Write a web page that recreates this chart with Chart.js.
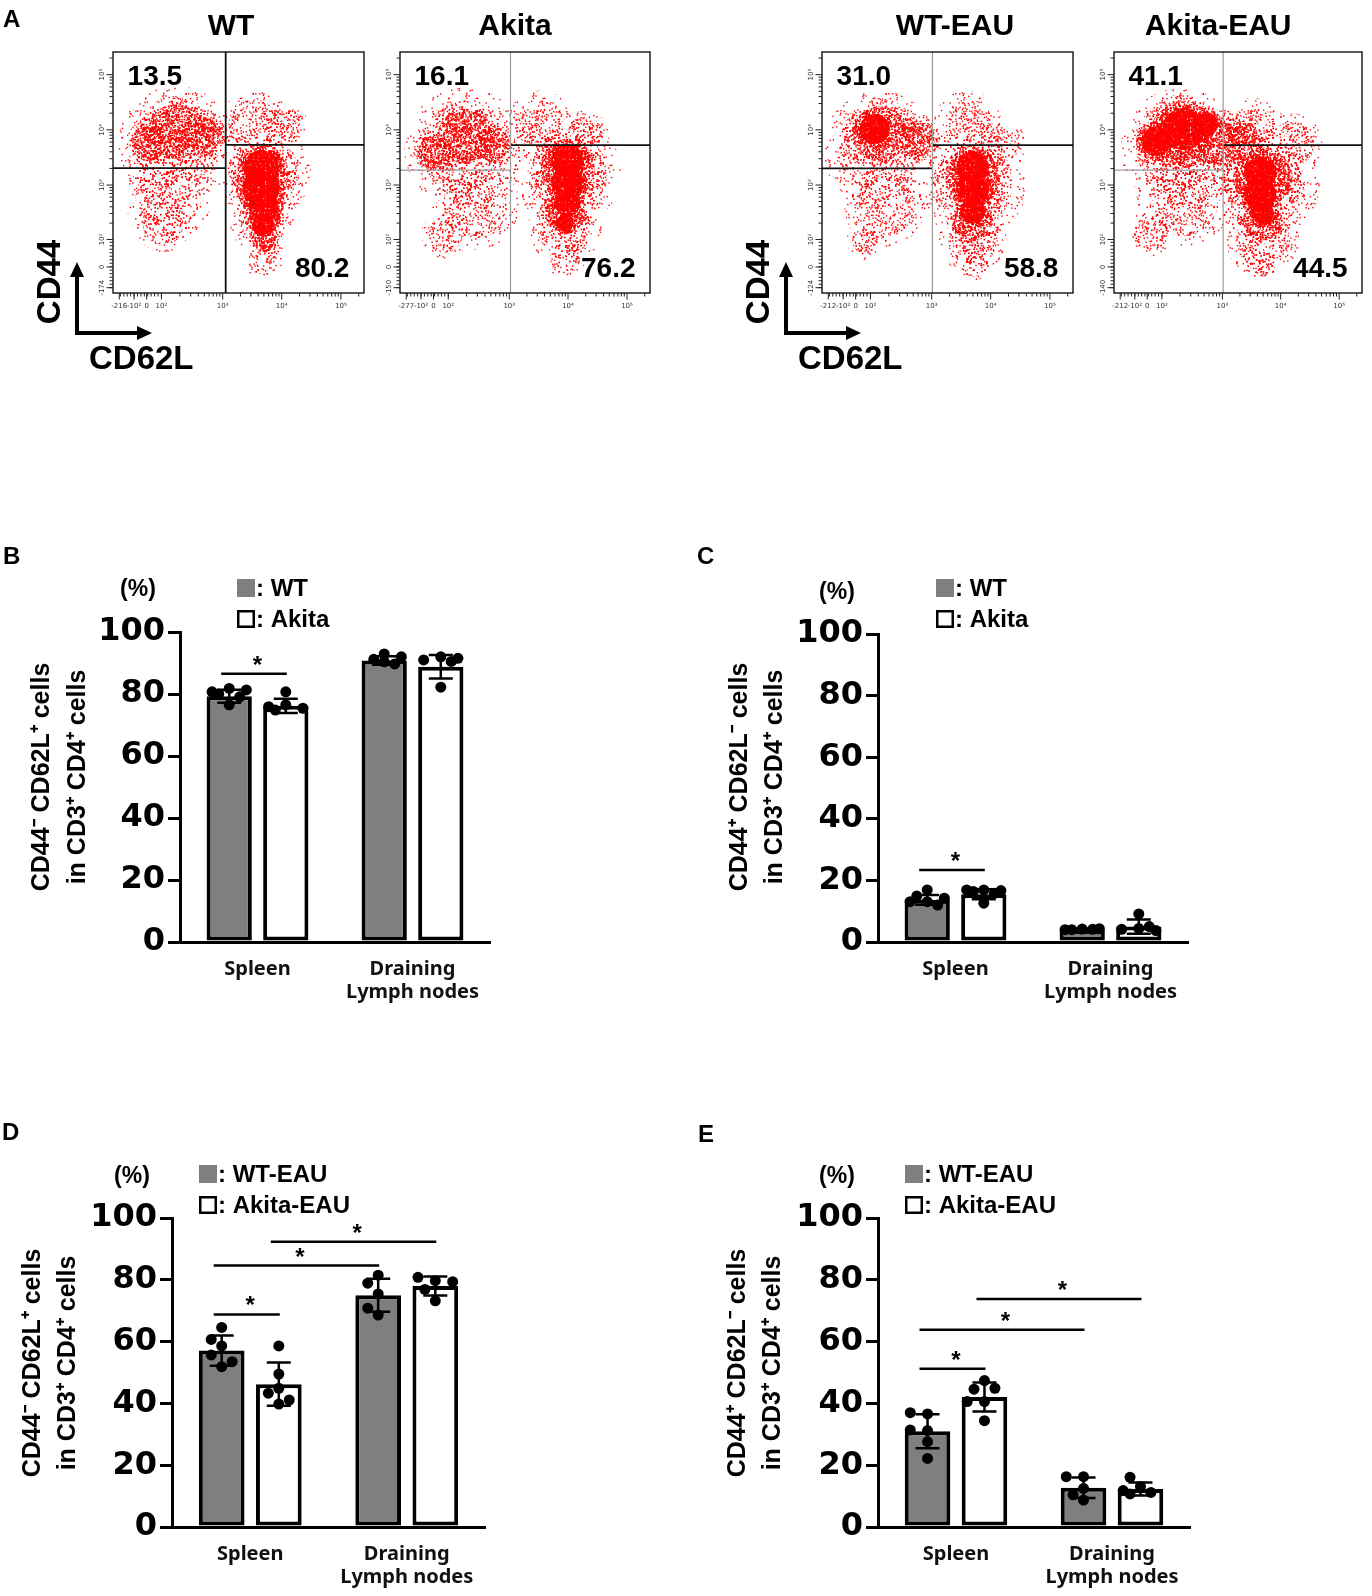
<!DOCTYPE html>
<html><head><meta charset="utf-8">
<script src="https://cdn.jsdelivr.net/npm/chart.js@4.4.1/dist/chart.umd.min.js"></script>
<style>
html,body{margin:0;padding:0;background:#fff;}
#page{position:relative;width:1372px;height:1596px;overflow:hidden;background:#fff;}
canvas{position:absolute;}
</style></head><body><div id="page"></div>
<script>
// ================= DATA =================
// Panel A : flow cytometry dot plots (CD62L x CD44)
const flowTitles = ['WT', 'Akita', 'WT-EAU', 'Akita-EAU'];
const flowQuadUL = ['13.5', '16.1', '31.0', '41.1'];
const flowQuadLR = ['80.2', '76.2', '58.8', '44.5'];
const flowXTickLabels = [
  ['-216', '-10²', '0', '10²', '10³', '10⁴', '10⁵'],
  ['-277', '-10²', '0', '10²', '10³', '10⁴', '10⁵'],
  ['-212', '-10²', '0', '10²', '10³', '10⁴', '10⁵'],
  ['-212', '-10²', '0', '10²', '10³', '10⁴', '10⁵']
];
const flowXTickPos = [2.5, 8.4, 13.4, 19.3, 43.7, 67.2, 90.8];
const flowYTickLabels = [
  ['-174', '0', '10²', '10³', '10⁴', '10⁵'],
  ['-150', '0', '10²', '10³', '10⁴', '10⁵'],
  ['-124', '0', '10²', '10³', '10⁴', '10⁵'],
  ['-140', '0', '10²', '10³', '10⁴', '10⁵']
];
const flowYTickPos = [2.2, 10.8, 22.2, 44.8, 67.7, 90.6];
const flowGateX = [44.9, 44.2, 44.0, 44.0];
const flowGateYLeft = [51.8, 51.0, 51.7, 51.0];
const flowGateYRight = [61.5, 61.4, 61.4, 61.4];
// event clouds: [CD62L, CD44, spread, density level 1..3]
const wtCells = [
  [25, 62, 17, 1], [22, 40, 13, 1], [20, 28, 8, 1],
  [25, 67, 11, 2], [14, 62, 7, 2], [35, 65, 8, 2],
  [56, 70, 10, 1], [68, 70, 7, 1],
  [60, 50, 14, 1], [60, 30, 10, 1], [60, 14, 6, 1],
  [60, 50, 10, 2], [60, 33, 7, 2], [60, 22, 4.5, 2],
  [59, 52, 7, 3], [59, 44, 7.5, 3], [60, 36, 6, 3], [60, 28, 4.5, 3]
];
const akitaCells = [
  [26, 60, 18, 1], [30, 36, 13, 1], [18, 24, 7, 1],
  [26, 65, 11, 2], [14, 58, 7, 2], [37, 62, 7, 2],
  [56, 70, 10, 1], [74, 66, 7, 1],
  [67, 50, 16, 1], [66, 27, 11, 1], [66, 14, 6, 1],
  [67, 52, 11, 2], [66, 33, 8, 2],
  [67, 55, 6.5, 3], [67, 46, 6.5, 3], [67, 37, 5, 3], [66, 29, 3.5, 3]
];
const wtEauCells = [
  [23, 60, 17, 1], [25, 36, 12, 1], [18, 22, 6, 1],
  [23, 66, 11, 2], [38, 64, 7, 2],
  [21, 68, 6, 3],
  [58, 70, 10, 1], [72, 62, 7, 1],
  [60, 45, 16, 1], [60, 22, 10, 1], [60, 12, 5, 1],
  [60, 48, 11, 2], [60, 30, 8, 2],
  [60, 52, 6.5, 3], [60, 43, 6.5, 3], [60, 34, 5, 3]
];
const akitaEauCells = [
  [27, 60, 18, 1], [28, 38, 14, 1], [15, 25, 7, 1],
  [27, 65, 13, 2], [43, 62, 9, 2],
  [28, 68, 8.5, 3], [17, 63, 6, 3], [37, 70, 5, 3],
  [56, 67, 10, 1], [72, 62, 9, 1], [52, 65, 6, 2],
  [60, 45, 17, 1], [60, 22, 11, 1], [60, 12, 5, 1],
  [60, 48, 12, 2], [60, 30, 8, 2],
  [59, 50, 6.5, 3], [59, 41, 6.5, 3], [60, 33, 4.5, 3]
];
const flowCells = [wtCells, akitaCells, wtEauCells, akitaEauCells];

// Panels B-E : bar charts (mean, SD, individual mice)
const barCategories = ['Spleen', ['Draining', 'Lymph nodes']];
const namesBC = ['WT', 'Akita'];
const namesDE = ['WT-EAU', 'Akita-EAU'];
const yTitleNaive = ['CD44⁻ CD62L⁺ cells', 'in CD3⁺ CD4⁺ cells'];
const yTitleMemory = ['CD44⁺ CD62L⁻ cells', 'in CD3⁺ CD4⁺ cells'];

const bWTMean = [79.3, 90.8], bWTSd = [2.1, 1.4];
const bAkMean = [76.2, 88.8], bAkSd = [2.3, 3.8];
const bWTPts = [[81.8, 76.5, 80.0, 81.3, 79.1, 80.7], [92.9, 91.2, 89.7, 90.4, 92.0]];
const bAkPts = [[80.7, 76.5, 75.9, 75.4, 74.8], [92.0, 91.0, 91.5, 90.5, 82.2]];
const bSig = [[0, 0, 1, 0, 86.5]];

const cWTMean = [13.7, 3.9], cWTSd = [1.6, 0.4];
const cAkMean = [15.5, 5.0], cAkSd = [1.6, 2.3];
const cWTPts = [[13.1, 14.9, 16.9, 14.2, 13.1, 12.0], [4.2, 4.0, 4.3, 4.1, 4.0]];
const cAkPts = [[16.9, 16.9, 12.6, 16.7, 16.4, 15.8], [4.4, 4.1, 9.1, 3.7, 5.0]];
const cSig = [[0, 0, 1, 0, 23.4]];

const dWTMean = [57.1, 75.0], dWTSd = [4.9, 5.3];
const dAkMean = [46.2, 78.0], dAkSd = [7.0, 3.1];
const dWTPts = [[58.6, 55.7, 51.9, 64.6, 60.7, 53.5], [81.5, 68.6, 75.4, 78.9, 70.8]];
const dAkPts = [[39.8, 58.6, 49.5, 43.3, 41.1, 44.9], [79.7, 80.8, 76.9, 73.2, 79.4]];
const dSig = [[0, 0, 1, 0, 68.8], [0, 0, 0, 1, 84.6], [1, 0, 1, 1, 92.3]];

const eWTMean = [31.0, 12.7], eWTSd = [5.5, 3.3];
const eAkMean = [42.1, 12.3], eAkSd = [4.7, 2.1];
const eWTPts = [[36.6, 31.2, 37.0, 31.4, 27.6, 22.2], [16.3, 12.5, 8.7, 16.3, 10.4]];
const eAkPts = [[47.4, 40.6, 44.6, 34.4, 40.6, 44.9], [13.1, 16.1, 10.7, 11.2, 11.8]];
const eSig = [[0, 0, 1, 0, 51.2], [0, 0, 0, 1, 63.8], [1, 0, 1, 1, 73.8]];

// ================= STYLE / LAYOUT =================
const ARIAL = '"Liberation Sans", Arial, Helvetica, sans-serif';
const DEJAVU = '"DejaVu Sans", sans-serif';
const NOTO = '"Noto Sans", "DejaVu Sans", sans-serif';
const GRAY = '#7f7f7f';
const page = document.getElementById('page');

function mkCanvas(left, top, w, h) {
  const c = document.createElement('canvas');
  c.width = w; c.height = h;
  c.style.left = left + 'px'; c.style.top = top + 'px';
  c.style.width = w + 'px'; c.style.height = h + 'px';
  page.appendChild(c);
  return c;
}

// speckle texture (style only) so clouds look like individual events
function frac(v) { return v - Math.floor(v); }
function speckle(size, count, dot, seed) {
  const c = document.createElement('canvas');
  c.width = size; c.height = size;
  const g = c.getContext('2d');
  g.fillStyle = '#ff0000';
  for (let k = 0; k < count; k++) {
    const hx = frac(Math.sin((k + seed) * 12.9898) * 43758.5453);
    const hy = frac(Math.sin((k + seed) * 78.233) * 24634.6345);
    g.fillRect(hx * size, hy * size, dot, dot);
  }
  return g.createPattern(c, 'repeat');
}
const patterns = [
  speckle(67, 150, 1.4, 3),
  speckle(61, 330, 1.4, 101),
  speckle(59, 1000, 1.4, 777),
  speckle(53, 3800, 1.4, 4242)
];
// each density level is drawn as its core plus a softer fringe one level lighter
const levelDraw = [
  {lvl: 1, pat: 0, f: 1.35, order: 8},
  {lvl: 1, pat: 1, f: 1.0, order: 7},
  {lvl: 2, pat: 1, f: 1.3, order: 6},
  {lvl: 2, pat: 2, f: 1.0, order: 5},
  {lvl: 3, pat: 2, f: 1.35, order: 4},
  {lvl: 3, pat: 3, f: 1.0, order: 3}
];

const flowLayout = [
  {canvas: [0, 0, 394, 380], box: [113, 52, 364, 293], titleX: 47, vGray: false, lGray: false, arrows: true},
  {canvas: [370, 0, 310, 320], box: [400, 52, 650, 293], titleX: 46, vGray: true, lGray: true, arrows: false},
  {canvas: [700, 0, 405, 380], box: [822, 52, 1073, 293], titleX: 53, vGray: true, lGray: false, arrows: true},
  {canvas: [1084, 0, 288, 320], box: [1114, 52, 1362, 293], titleX: 42, vGray: true, lGray: true, arrows: false}
];

function minorTicksX() {
  const t = [];
  for (let v = -200; v <= 100; v += 25) t.push(8.4 + (v + 100) / 200 * (19.3 - 8.4));
  const decades = [[19.3, 43.7], [43.7, 67.2], [67.2, 90.8]];
  decades.forEach(([a, b]) => { for (let k = 2; k <= 9; k++) t.push(a + Math.log10(k) * (b - a)); });
  t.push(90.8 + Math.log10(2) * 23.6);
  return t.filter(v => v > 0.5 && v < 99.5);
}
function minorTicksY() {
  const t = [];
  for (let v = 2.2; v <= 22.2; v += 1.45) t.push(v);
  const decades = [[22.2, 44.8], [44.8, 67.7], [67.7, 90.6]];
  decades.forEach(([a, b]) => { for (let k = 2; k <= 9; k++) t.push(a + Math.log10(k) * (b - a)); });
  t.push(90.6 + Math.log10(2) * 22.9);
  return t.filter(v => v > 0.5 && v < 99.5);
}

function flowPlugin(i, L) {
  return {
    id: 'flowDecor' + i,
    afterDraw(chart) {
      const {ctx, chartArea: a, scales: {x, y}} = chart;
      ctx.save();
      ctx.strokeStyle = '#000';
      ctx.lineWidth = 1.3;
      ctx.strokeRect(a.left, a.top, a.right - a.left, a.bottom - a.top);
      ctx.lineWidth = 1;
      ctx.strokeStyle = '#222';
      ctx.beginPath();
      minorTicksX().forEach(v => { const px = x.getPixelForValue(v); ctx.moveTo(px, a.bottom); ctx.lineTo(px, a.bottom + 3.5); });
      flowXTickPos.forEach(v => { const px = x.getPixelForValue(v); ctx.moveTo(px, a.bottom); ctx.lineTo(px, a.bottom + 6.5); });
      minorTicksY().forEach(v => { const py = y.getPixelForValue(v); ctx.moveTo(a.left, py); ctx.lineTo(a.left - 3.5, py); });
      flowYTickPos.forEach(v => { const py = y.getPixelForValue(v); ctx.moveTo(a.left, py); ctx.lineTo(a.left - 6.5, py); });
      ctx.stroke();
      ctx.fillStyle = '#333';
      ctx.font = '7px ' + DEJAVU;
      ctx.textAlign = 'center';
      ctx.textBaseline = 'middle';
      flowXTickLabels[i].forEach((lab, k) => ctx.fillText(lab, x.getPixelForValue(flowXTickPos[k]), a.bottom + 13));
      flowYTickLabels[i].forEach((lab, k) => {
        ctx.save();
        ctx.translate(a.left - 11, y.getPixelForValue(flowYTickPos[k]));
        ctx.rotate(-Math.PI / 2);
        ctx.fillText(lab, 0, 0);
        ctx.restore();
      });
      ctx.fillStyle = '#000';
      ctx.font = 'bold 28px ' + ARIAL;
      ctx.textBaseline = 'middle';
      ctx.textAlign = 'left';
      ctx.fillText(flowQuadUL[i], x.getPixelForValue(5.8), y.getPixelForValue(89.5));
      ctx.textAlign = 'right';
      ctx.fillText(flowQuadLR[i], x.getPixelForValue(94.2), y.getPixelForValue(10));
      ctx.font = 'bold 30px ' + ARIAL;
      ctx.textAlign = 'center';
      ctx.fillText(flowTitles[i], x.getPixelForValue(L.titleX), a.top - 25);
      if (i === 0) {
        ctx.font = 'bold 24px ' + ARIAL;
        ctx.textAlign = 'left';
        ctx.fillText('A', 3, 20);
      }
      if (L.arrows) {
        const ax = a.left - 36, ay = 333, topY = 262, rx = ax + 75;
        ctx.strokeStyle = '#000';
        ctx.lineWidth = 4;
        ctx.beginPath();
        ctx.moveTo(ax, ay + 2); ctx.lineTo(ax, topY + 12);
        ctx.moveTo(ax - 2, ay); ctx.lineTo(rx - 12, ay);
        ctx.stroke();
        ctx.beginPath();
        ctx.moveTo(ax, topY); ctx.lineTo(ax - 7, topY + 15); ctx.lineTo(ax + 7, topY + 15); ctx.closePath();
        ctx.moveTo(rx, ay); ctx.lineTo(rx - 15, ay - 7); ctx.lineTo(rx - 15, ay + 7); ctx.closePath();
        ctx.fill();
        ctx.font = 'bold 33px ' + ARIAL;
        ctx.textBaseline = 'middle';
        ctx.save();
        ctx.translate(ax - 26, 282);
        ctx.rotate(-Math.PI / 2);
        ctx.textAlign = 'center';
        ctx.fillText('CD44', 0, 0);
        ctx.restore();
        ctx.textAlign = 'left';
        ctx.fillText('CD62L', ax + 12, 360);
      }
      ctx.restore();
    }
  };
}

function radiusFn(f) {
  return ctx => {
    const d = ctx.raw;
    if (!d) return 0;
    const xs = ctx.chart.scales.x;
    return f * Math.abs(xs.getPixelForValue(d.x + d.s) - xs.getPixelForValue(d.x));
  };
}

flowLayout.forEach((L, i) => {
  const [cl, ct, cw, ch] = L.canvas;
  const [bl, bt, br, bb] = L.box;
  const c = mkCanvas(cl, ct, cw, ch);
  const datasets = [];
  levelDraw.forEach(D => {
    const pts = flowCells[i].filter(p => p[3] === D.lvl).map(p => ({x: p[0], y: p[1], s: p[2]}));
    datasets.push({
      type: 'scatter', data: pts, backgroundColor: patterns[D.pat], borderWidth: 0,
      pointRadius: radiusFn(D.f), pointHoverRadius: radiusFn(D.f), order: D.order, clip: 0
    });
  });
  const gx = flowGateX[i], gyl = flowGateYLeft[i], gyr = flowGateYRight[i];
  const lineDs = (pts, gray) => ({
    type: 'line', data: pts, borderColor: gray ? '#9a9a9a' : '#111', borderWidth: gray ? 1.2 : 1.8,
    pointRadius: 0, showLine: true, fill: false, order: 0, clip: 0
  });
  datasets.push(lineDs([{x: gx, y: 0}, {x: gx, y: 100}], L.vGray));
  datasets.push(lineDs([{x: 0, y: gyl}, {x: gx, y: gyl}], L.lGray));
  datasets.push(lineDs([{x: gx, y: gyr}, {x: 100, y: gyr}], false));
  new Chart(c, {
    type: 'scatter',
    data: {datasets},
    options: {
      responsive: false, animation: false, events: [],
      layout: {padding: {left: bl - cl, top: bt - ct, right: cl + cw - br, bottom: ct + ch - bb}},
      plugins: {legend: {display: false}, tooltip: {enabled: false}},
      scales: {
        x: {type: 'linear', min: 0, max: 100, display: false},
        y: {type: 'linear', min: 0, max: 100, display: false}
      }
    },
    plugins: [flowPlugin(i, L)]
  });
});

// ---------- bar charts ----------
function swarm(pys, r, maxOff) {
  const d = 2 * r, placed = [];
  return pys.map(py => {
    const cands = [0, -d * 0.95, d * 0.95, -d * 1.7, d * 1.7];
    let best = 0, bestScore = -1;
    for (const off of cands) {
      const o = Math.max(-maxOff, Math.min(maxOff, off));
      let minD = Infinity;
      placed.forEach(p => { minD = Math.min(minD, Math.hypot(p[0] - o, p[1] - py)); });
      if (minD >= d) { best = o; bestScore = Infinity; break; }
      if (minD > bestScore) { bestScore = minD; best = o; }
    }
    placed.push([best, py]);
    return best;
  });
}

function barDecor(P) {
  return {
    id: 'barDecor' + P.letter,
    afterDatasetsDraw(chart) {
      const {ctx, scales: {y}} = chart;
      ctx.save();
      ctx.strokeStyle = '#000';
      ctx.fillStyle = '#000';
      chart.data.datasets.forEach((ds, di) => {
        const meta = chart.getDatasetMeta(di);
        meta.data.forEach((bar, ci) => {
          const m = ds.data[ci], sd = ds.sd[ci];
          const yt = y.getPixelForValue(m + sd), yb = y.getPixelForValue(m - sd);
          ctx.lineWidth = 2.5;
          ctx.beginPath();
          ctx.moveTo(bar.x, yt); ctx.lineTo(bar.x, yb);
          ctx.moveTo(bar.x - 12, yt); ctx.lineTo(bar.x + 12, yt);
          ctx.moveTo(bar.x - 12, yb); ctx.lineTo(bar.x + 12, yb);
          ctx.stroke();
          const pys = ds.pts[ci].map(v => y.getPixelForValue(v));
          const offs = swarm(pys, 5.5, bar.width / 2 - 5.5);
          pys.forEach((py, k) => {
            ctx.beginPath();
            ctx.arc(bar.x + offs[k], py, 5.5, 0, Math.PI * 2);
            ctx.fill();
          });
        });
      });
      ctx.lineWidth = 2.5;
      ctx.font = 'bold 24px ' + ARIAL;
      ctx.textAlign = 'center';
      ctx.textBaseline = 'alphabetic';
      P.sig.forEach(([da, ca, db, cb, v]) => {
        const xa = chart.getDatasetMeta(da).data[ca].x;
        const xb = chart.getDatasetMeta(db).data[cb].x;
        const py = y.getPixelForValue(v);
        ctx.beginPath(); ctx.moveTo(xa - 8, py); ctx.lineTo(xb + 1, py); ctx.stroke();
        ctx.fillText('*', (xa + xb) / 2, py - 1);
      });
      ctx.restore();
    },
    afterDraw(chart) {
      const {ctx} = chart;
      const ox = P.canvas[0], oy = P.canvas[1];
      ctx.save();
      ctx.fillStyle = '#000';
      ctx.textBaseline = 'middle';
      ctx.font = 'bold 24px ' + ARIAL;
      ctx.textAlign = 'left';
      ctx.fillText(P.letter, P.letterPos[0] - ox, P.letterPos[1] - oy);
      ctx.font = 'bold 23px ' + ARIAL;
      ctx.textAlign = 'center';
      ctx.fillText('(%)', P.pct[0] - ox, P.pct[1] - oy);
      const ds = chart.data.datasets;
      const lx = P.leg[0] - ox;
      [P.leg[1], P.leg[2]].forEach((ly, k) => {
        const cy = ly - oy;
        if (k === 0) {
          ctx.fillStyle = ds[0].backgroundColor;
          ctx.fillRect(lx, cy - 9, 18, 18);
        } else {
          ctx.fillStyle = '#fff';
          ctx.fillRect(lx, cy - 9, 18, 18);
          ctx.strokeStyle = '#000'; ctx.lineWidth = 2.5;
          ctx.strokeRect(lx + 1.25, cy - 7.75, 15.5, 15.5);
        }
        ctx.fillStyle = '#000';
        ctx.font = 'bold 24px ' + ARIAL;
        ctx.textAlign = 'left';
        ctx.fillText(': ' + ds[k].label, lx + 19, cy + 1);
      });
      ctx.font = 'bold 25px ' + ARIAL;
      ctx.textAlign = 'center';
      [P.yTitleX[0], P.yTitleX[1]].forEach((tx, k) => {
        ctx.save();
        ctx.translate(tx - ox, P.yTitleY - oy);
        ctx.rotate(-Math.PI / 2);
        ctx.fillText(P.yTitle[k], 0, 0);
        ctx.restore();
      });
      ctx.restore();
    }
  };
}

function barChart(P) {
  const [cl, ct, cw, ch] = P.canvas;
  const A = P.area;
  const c = mkCanvas(cl, ct, cw, ch);
  const yW = A.l - cl, xH = ct + ch - A.b;
  const common = {borderColor: '#000', borderWidth: 4, borderSkipped: false, categoryPercentage: 0.73, barPercentage: 0.8};
  new Chart(c, {
    type: 'bar',
    data: {
      labels: barCategories,
      datasets: [
        Object.assign({label: P.names[0], data: P.means[0], sd: P.sds[0], pts: P.pts[0], backgroundColor: GRAY}, common),
        Object.assign({label: P.names[1], data: P.means[1], sd: P.sds[1], pts: P.pts[1], backgroundColor: '#ffffff'}, common)
      ]
    },
    options: {
      responsive: false, animation: false, events: [],
      layout: {padding: {left: 0, top: A.t - ct, right: cl + cw - A.r, bottom: 0}},
      plugins: {legend: {display: false}, tooltip: {enabled: false}},
      scales: {
        x: {
          ticks: {font: {family: NOTO, size: 20, weight: 'bold', lineHeight: 1.15}, color: '#111', padding: 16, maxRotation: 0, autoSkip: false},
          grid: {display: false, drawTicks: false},
          border: {display: true, width: 3, color: '#000'},
          afterFit: s => { s.height = xH; }
        },
        y: {
          min: 0, max: 100,
          ticks: {stepSize: 20, font: {family: DEJAVU, weight: 'bold', size: 32}, color: '#000', padding: 3},
          grid: {drawOnChartArea: false, drawTicks: true, tickLength: 12, tickWidth: 3, tickColor: '#000', lineWidth: 3, color: '#000'},
          border: {display: true, width: 3, color: '#000'},
          afterFit: s => { s.width = yW; }
        }
      }
    },
    plugins: [barDecor(P)]
  });
}

barChart({letter: 'B', canvas: [0, 540, 520, 470], area: {l: 180, r: 490, t: 632, b: 942},
  letterPos: [3, 557], pct: [138, 590], leg: [237, 588, 619], yTitleX: [42, 78], yTitleY: 777, yTitle: yTitleNaive,
  names: namesBC, means: [bWTMean, bAkMean], sds: [bWTSd, bAkSd], pts: [bWTPts, bAkPts], sig: bSig});
barChart({letter: 'C', canvas: [690, 540, 520, 470], area: {l: 878, r: 1188, t: 634, b: 942},
  letterPos: [697, 557], pct: [837, 593], leg: [936, 588, 619], yTitleX: [740, 775], yTitleY: 777, yTitle: yTitleMemory,
  names: namesBC, means: [cWTMean, cAkMean], sds: [cWTSd, cAkSd], pts: [cWTPts, cAkPts], sig: cSig});
barChart({letter: 'D', canvas: [0, 1110, 520, 486], area: {l: 172, r: 485, t: 1218, b: 1527},
  letterPos: [2, 1133], pct: [132, 1177], leg: [199, 1174, 1205], yTitleX: [33, 68], yTitleY: 1363, yTitle: yTitleNaive,
  names: namesDE, means: [dWTMean, dAkMean], sds: [dWTSd, dAkSd], pts: [dWTPts, dAkPts], sig: dSig});
barChart({letter: 'E', canvas: [690, 1110, 520, 486], area: {l: 878, r: 1190, t: 1218, b: 1527},
  letterPos: [698, 1135], pct: [837, 1177], leg: [905, 1174, 1205], yTitleX: [738, 773], yTitleY: 1363, yTitle: yTitleMemory,
  names: namesDE, means: [eWTMean, eAkMean], sds: [eWTSd, eAkSd], pts: [eWTPts, eAkPts], sig: eSig});
</script>
</body></html>
